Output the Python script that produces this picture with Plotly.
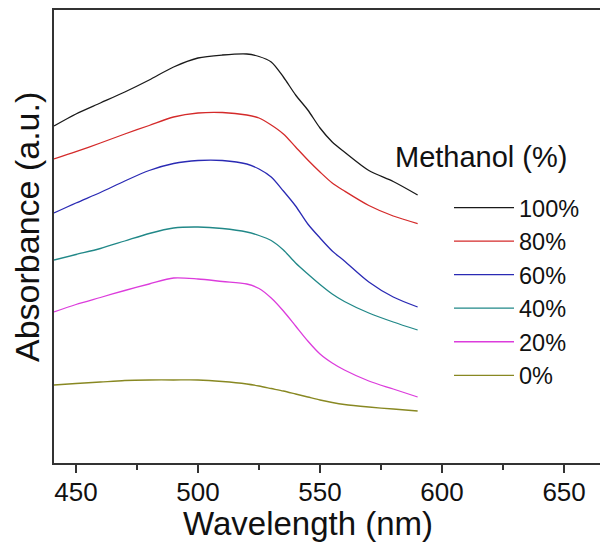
import plotly.graph_objects as go

wavelength = [441, 450, 460, 470, 480, 490, 500, 510, 520, 525, 530, 535, 540,
              545, 550, 555, 560, 570, 580, 590]

abs_100 = [3.37, 3.49, 3.60, 3.71, 3.83, 3.96, 4.05, 4.08, 4.09, 4.065, 4.01,
           3.86, 3.68, 3.53, 3.35, 3.21, 3.11, 2.925, 2.815, 2.68]
abs_80 = [3.04, 3.113, 3.20, 3.29, 3.375, 3.46, 3.50, 3.505, 3.48, 3.45, 3.38,
          3.29, 3.16, 3.03, 2.91, 2.80, 2.72, 2.575, 2.47, 2.395]
abs_60 = [2.50, 2.60, 2.705, 2.82, 2.925, 2.995, 3.025, 3.025, 2.99, 2.94, 2.86,
          2.72, 2.57, 2.39, 2.25, 2.12, 2.02, 1.81, 1.66, 1.56]
abs_40 = [2.03, 2.085, 2.145, 2.22, 2.295, 2.35, 2.36, 2.345, 2.31, 2.275, 2.225,
          2.13, 2.00, 1.89, 1.785, 1.69, 1.615, 1.50, 1.41, 1.33]
abs_20 = [1.51, 1.585, 1.655, 1.725, 1.79, 1.85, 1.84, 1.815, 1.79, 1.745, 1.65,
          1.52, 1.37, 1.22, 1.09, 1.00, 0.93, 0.82, 0.74, 0.66]
abs_0 = [0.78, 0.795, 0.81, 0.825, 0.83, 0.83, 0.83, 0.815, 0.79, 0.77, 0.745,
         0.72, 0.69, 0.66, 0.63, 0.605, 0.585, 0.56, 0.54, 0.52]

series_names = ["100%", "80%", "60%", "40%", "20%", "0%"]
series_values = [abs_100, abs_80, abs_60, abs_40, abs_20, abs_0]
series_colors = ["#1a1a1a", "#D42A2A", "#2A2AB4", "#218888", "#DC3CDC", "#888822"]

x_ticks = [450, 500, 550, 600, 650]
x_minor_ticks = [475, 525, 575, 625]

FONT = "Arial, Liberation Sans, sans-serif"

fig = go.Figure()
for name, vals, col in zip(series_names, series_values, series_colors):
    fig.add_trace(go.Scatter(x=wavelength, y=vals, mode="lines", name=name,
                             line=dict(color=col, width=1.3, shape="spline",
                                       smoothing=0.8)))

# page body has an 8px margin, so the figure is sized/offset to compensate
fig.update_layout(
    width=600, height=534,
    margin=dict(l=46, r=0, t=2, b=79),
    paper_bgcolor="white", plot_bgcolor="white",
    font=dict(family=FONT, color="#111111"),
    showlegend=True,
    legend=dict(x=0.713, y=0.612, xanchor="left", yanchor="top",
                font=dict(size=23.5, family=FONT, color="#111111"),
                itemwidth=60, bgcolor="rgba(0,0,0,0)", tracegroupgap=0),
    annotations=[
        dict(text="Methanol (%)", xref="paper", yref="paper", x=0.612, y=0.6755,
             xanchor="left", yanchor="middle", showarrow=False,
             font=dict(size=29, family=FONT, color="#111111")),
        dict(text="Wavelength (nm)", xref="paper", yref="paper", x=0.4585, y=-0.1325,
             xanchor="center", yanchor="middle", showarrow=False,
             font=dict(size=33, family=FONT, color="#111111")),
        dict(text="Absorbance (a.u.)", xref="paper", yref="paper", x=-0.0487, y=0.521,
             xanchor="center", yanchor="middle", showarrow=False, textangle=-90,
             font=dict(size=34, family=FONT, color="#111111")),
    ],
)

fig.update_xaxes(range=[441, 668], tickvals=x_ticks, ticks="outside", ticklen=8,
                 tickwidth=1.5, tickcolor="#333333", showline=True, linecolor="#333333",
                 linewidth=1.5, mirror=True, showgrid=False, zeroline=False,
                 ticklabelstandoff=-3,
                 tickfont=dict(size=26, family=FONT, color="#111111"),
                 minor=dict(tickvals=x_minor_ticks, ticks="outside", ticklen=5,
                            tickcolor="#333333", tickwidth=1.5, showgrid=False))
fig.update_yaxes(range=[0, 4.53], showticklabels=False, ticks="", showline=True,
                 linecolor="#333333", linewidth=1.5, showgrid=False, zeroline=False)

fig.write_html("out.html")
